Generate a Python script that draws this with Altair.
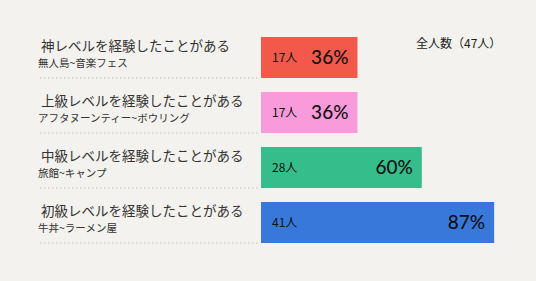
import altair as alt
import pandas as pd

levels = ["神レベルを経験したことがある", "上級レベルを経験したことがある",
          "中級レベルを経験したことがある", "初級レベルを経験したことがある"]
examples = ["無人島~音楽フェス", "アフタヌーンティー~ボウリング", "旅館~キャンプ", "牛丼~ラーメン屋"]
counts = [17, 17, 28, 41]
percents = [36, 36, 60, 87]
colors = ["#F3594B", "#F99BDA", "#35BE8B", "#3878DB"]
total_label = "全人数（47人）"

df = pd.DataFrame({
    "level": levels,
    "example": examples,
    "count": counts,
    "pct": percents,
    "countLabel": [f"{c}人" for c in counts],
    "pctLabel": [f"{p}%" for p in percents],
    "color": colors,
})

JP = "Noto Sans CJK JP"

yscale = alt.Scale(domain=levels, range=[30, 250], paddingInner=14/55, paddingOuter=7/55)
xscale = alt.Scale(domain=[0, 100], range=[261, 529])
Y = alt.Y("level:N", scale=yscale, axis=None)
X = alt.X("pct:Q", scale=xscale, axis=None)

base = alt.Chart(df)

bars = base.mark_bar().encode(
    x=alt.X("zero:Q", scale=xscale, axis=None), x2="pct:Q", y=Y,
    color=alt.Color("color:N", scale=None),
).transform_calculate(zero="0")

pct_text = base.mark_text(align="right", baseline="middle", dx=-9, fontSize=19,
                          font="Lato", fontWeight=500, color="#111111").encode(
    x=X, y=Y, text="pctLabel:N")

count_text = base.mark_text(align="left", baseline="middle", dx=11, fontSize=12,
                            font=JP, color="#111111").encode(
    x=alt.X("zero:Q", scale=xscale, axis=None), y=Y, text="countLabel:N"
).transform_calculate(zero="0")

main_text = base.mark_text(align="left", baseline="middle", dy=-10.5, fontSize=13.5,
                           font=JP, color="#333333").encode(
    x=alt.value(41), y=Y, text="level:N")

sub_text = base.mark_text(align="left", baseline="middle", dy=6, fontSize=10.5,
                          font=JP, color="#333333").encode(
    x=alt.value(38), y=Y, text="example:N")

rules = base.mark_rule(color="#c4c1bc", strokeDash=[1.5, 2.5], strokeWidth=1).encode(
    x=alt.value(40), x2=alt.value(259),
    y=alt.Y("level:N", scale=yscale, axis=None, bandPosition=1))

total = alt.Chart(pd.DataFrame({"t": [total_label]})).mark_text(
    align="left", baseline="middle", fontSize=12, font=JP, color="#222222").encode(
    x=alt.value(416), y=alt.value(44), text="t:N")

chart = alt.layer(rules, bars, pct_text, count_text, main_text, sub_text, total).properties(
    width=536, height=281, background="#F4F2EE", padding=0,
    autosize=alt.AutoSizeParams(type="none"),
).configure_view(stroke=None)

chart.save("out.html", embed_options={"renderer": "svg", "actions": False})
